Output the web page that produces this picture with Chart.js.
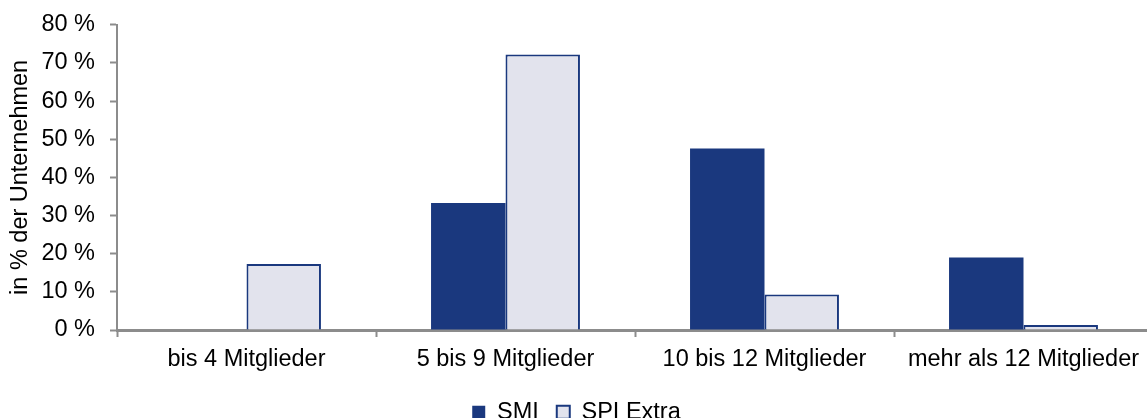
<!DOCTYPE html>
<html lang="de">
<head>
<meta charset="utf-8">
<title>Mitglieder</title>
<script src="https://cdn.jsdelivr.net/npm/chart.js@4/dist/chart.umd.min.js"></script>
<style>
  html, body { margin: 0; padding: 0; background: #fff; overflow: hidden; }
  #wrap { position: relative; width: 1153px; height: 436px; margin-top: -2px; }
</style>
</head>
<body>
<div id="wrap"><canvas id="chart"></canvas></div>
<script>
  const categories = ["bis 4 Mitglieder", "5 bis 9 Mitglieder", "10 bis 12 Mitglieder", "mehr als 12 Mitglieder"];
  const smiValues = [0, 33.3, 47.6, 19.0];
  const spiExtraValues = [17.3, 72.2, 9.3, 1.3];
  const yTicks = [0, 10, 20, 30, 40, 50, 60, 70, 80];

  const navy = "#1a387e";
  const pale = "#e2e3ed";
  const axisGrey = "#8c8c8c";
  const font = { family: "'Liberation Sans', Arial, sans-serif", size: 23.5, lineHeight: 1.0 };

  Chart.defaults.color = "#000";
  Chart.defaults.font = font;

  new Chart(document.querySelector("#chart"), {
    type: "bar",
    data: {
      labels: categories,
      datasets: [
        {
          label: "SMI",
          data: smiValues,
          backgroundColor: navy,
          borderColor: navy,
          borderWidth: 0,
        },
        {
          label: "SPI Extra",
          data: spiExtraValues,
          backgroundColor: pale,
          borderColor: navy,
          borderWidth: 2,
          borderSkipped: "bottom",
        },
      ],
    },
    options: {
      responsive: true,
      maintainAspectRatio: false,
      animation: false,
      datasets: {
        bar: { categoryPercentage: 0.575, barPercentage: 1 },
      },
      layout: { padding: { top: 2, left: 0, right: 0, bottom: 0 } },
      scales: {
        x: {
          grid: {
            display: true,
            drawOnChartArea: false,
            drawTicks: true,
            tickLength: 7,
            tickWidth: 2,
            tickColor: axisGrey,
            offset: true,
          },
          border: { color: axisGrey, width: 3 },
          ticks: { padding: 11, font },
        },
        y: {
          min: 0,
          max: 80,
          afterBuildTicks: (axis) => {
            axis.ticks = yTicks.map((v) => ({ value: v }));
          },
          afterFit: (axis) => {
            axis.width = 117;
          },
          grid: {
            display: true,
            drawOnChartArea: false,
            drawTicks: true,
            tickLength: 7,
            tickWidth: 2,
            tickColor: axisGrey,
          },
          border: { color: axisGrey, width: 2 },
          ticks: {
            padding: 15,
            font,
            callback: (v) => `${v} %`,
          },
          title: {
            display: true,
            text: "in % der Unternehmen",
            font,
            padding: { top: 9, bottom: 0 },
          },
        },
      },
      plugins: {
        legend: {
          position: "bottom",
          labels: {
            boxWidth: 13,
            boxHeight: 13,
            padding: 18,
            font,
          },
        },
        tooltip: { enabled: false },
      },
    },
  });
</script>
</body>
</html>
